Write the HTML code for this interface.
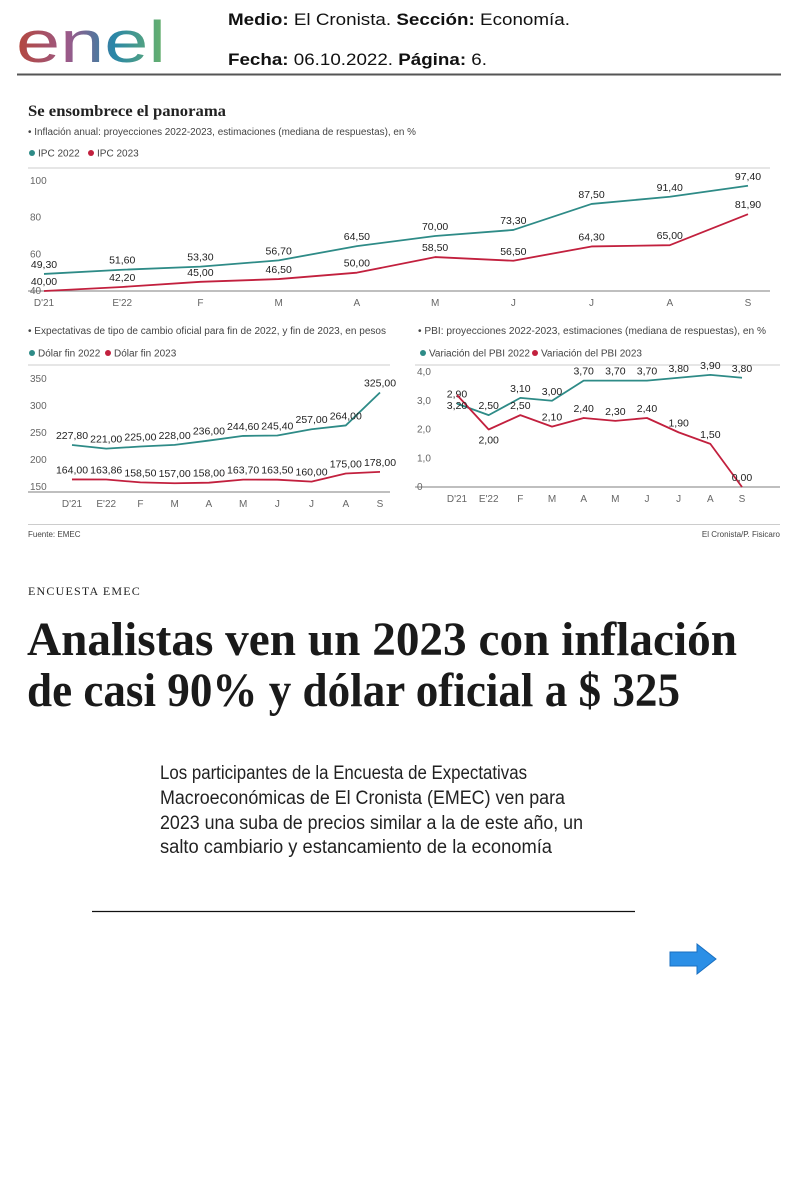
<!DOCTYPE html>
<html><head><meta charset="utf-8"><style>
html,body{margin:0;padding:0;background:#fff}
svg{display:block}
text{font-family:"Liberation Sans",sans-serif}
text.serif{font-family:"Liberation Serif",serif}
.tk{font-size:10px;fill:#666}
.vl{font-size:10.5px;fill:#222}
.sub{font-size:10px;fill:#444}
</style></head><body>
<svg id="pg" width="800" height="1200" viewBox="0 0 800 1200">
<defs>
<linearGradient id="lg" x1="0" x2="1"><stop offset="0" stop-color="#b5473c"/><stop offset="0.35" stop-color="#9a5a8a"/><stop offset="0.65" stop-color="#2a86a8"/><stop offset="1" stop-color="#6ab36a"/></linearGradient>
</defs>
<g>
<text x="16" y="62" font-size="58" fill="url(#lg)" textLength="150" lengthAdjust="spacingAndGlyphs">enel</text>
<text x="228" y="25" font-size="17" fill="#111" textLength="342" lengthAdjust="spacingAndGlyphs"><tspan font-weight="bold">Medio:</tspan> El Cronista.  <tspan font-weight="bold">Sección:</tspan> Economía.</text>
<text x="228" y="65" font-size="17" fill="#111" textLength="259" lengthAdjust="spacingAndGlyphs"><tspan font-weight="bold">Fecha:</tspan> 06.10.2022.  <tspan font-weight="bold">Página:</tspan> 6.</text>
<line x1="17" y1="74.5" x2="781" y2="74.5" stroke="#555" stroke-width="2"/>
</g>
<text x="28" y="116" font-size="16" class="serif" font-weight="bold" fill="#222" textLength="198" lengthAdjust="spacingAndGlyphs">Se ensombrece el panorama</text>
<text x="28" y="135" class="sub" textLength="388" lengthAdjust="spacingAndGlyphs">• Inflación anual: proyecciones 2022-2023, estimaciones (mediana de respuestas), en %</text>
<g>
<circle cx="32" cy="153" r="3" fill="#2e8b87"/><text x="38" y="156.5" class="sub">IPC 2022</text>
<circle cx="91" cy="153" r="3" fill="#c2203e"/><text x="97" y="156.5" class="sub">IPC 2023</text>
</g>
<text x="28" y="334" class="sub" textLength="358" lengthAdjust="spacingAndGlyphs">• Expectativas de tipo de cambio oficial para fin de 2022, y fin de 2023, en pesos</text>
<g>
<circle cx="32" cy="353" r="3" fill="#2e8b87"/><text x="38" y="356.5" class="sub">Dólar fin 2022</text>
<circle cx="108" cy="353" r="3" fill="#c2203e"/><text x="114" y="356.5" class="sub">Dólar fin 2023</text>
</g>
<text x="418" y="334" class="sub" textLength="348" lengthAdjust="spacingAndGlyphs">• PBI: proyecciones 2022-2023, estimaciones (mediana de respuestas), en %</text>
<g>
<circle cx="423" cy="353" r="3" fill="#2e8b87"/><text x="429" y="356.5" class="sub">Variación del PBI 2022</text>
<circle cx="535" cy="353" r="3" fill="#c2203e"/><text x="541" y="356.5" class="sub">Variación del PBI 2023</text>
</g>
<line x1="28" y1="524.5" x2="780" y2="524.5" stroke="#ccc"/>
<text x="28" y="537" font-size="8" fill="#444">Fuente: EMEC</text>
<text x="780" y="537" font-size="8" fill="#444" text-anchor="end">El Cronista/P. Fisicaro</text>
<g id="charts"></g>

<text x="28" y="595" font-size="12" class="serif" fill="#222" letter-spacing="1.2">ENCUESTA EMEC</text>
<g>
<text x="27" y="655" font-size="48" class="serif" font-weight="bold" fill="#1a1a1a" textLength="710" lengthAdjust="spacingAndGlyphs">Analistas ven un 2023 con inflación</text>
<text x="27" y="706" font-size="48" class="serif" font-weight="bold" fill="#1a1a1a" textLength="653" lengthAdjust="spacingAndGlyphs">de casi 90% y dólar oficial a $ 325</text>
</g>
<g font-size="19" fill="#222">
<text x="160" y="779" textLength="367" lengthAdjust="spacingAndGlyphs">Los participantes de la Encuesta de Expectativas</text>
<text x="160" y="804" textLength="405" lengthAdjust="spacingAndGlyphs">Macroeconómicas de El Cronista (EMEC) ven para</text>
<text x="160" y="829" textLength="423" lengthAdjust="spacingAndGlyphs">2023 una suba de precios similar a la de este año, un</text>
<text x="160" y="853" textLength="392" lengthAdjust="spacingAndGlyphs">salto cambiario y estancamiento de la economía</text>
</g>
<line x1="92" y1="911.5" x2="635" y2="911.5" stroke="#111" stroke-width="1.2"/>
<path d="M670 952 L697 952 L697 944 L716 959 L697 974 L697 966 L670 966 Z" fill="#2b8fe6" stroke="#1a6fc0" stroke-width="1"/>
</svg>
<script>
const months = ["D'21","E'22","F","M","A","M","J","J","A","S"];
const ipc2022 = [49.3,51.6,53.3,56.7,64.5,70.0,73.3,87.5,91.4,97.4];
const ipc2023 = [40.0,42.2,45.0,46.5,50.0,58.5,56.5,64.3,65.0,81.9];
const ipcTicks = [40,60,80,100];
const dolar2022 = [227.8,221.0,225.0,228.0,236.0,244.6,245.4,257.0,264.0,325.0];
const dolar2023 = [164.0,163.86,158.5,157.0,158.0,163.7,163.5,160.0,175.0,178.0];
const dolarTicks = [150,200,250,300,350];
const pbi2022 = [2.9,2.5,3.1,3.0,3.7,3.7,3.7,3.8,3.9,3.8];
const pbi2023 = [3.2,2.0,2.5,2.1,2.4,2.3,2.4,1.9,1.5,0.0];
const pbiTicks = [0,1,2,3,4];

const NS="http://www.w3.org/2000/svg";
const root=document.getElementById('charts');
function mk(tag,attrs,parent){const e=document.createElementNS(NS,tag);for(const k in attrs)e.setAttribute(k,attrs[k]);parent.appendChild(e);return e;}
function fmt(v,d){return v.toFixed(d).replace('.',',');}

function chart(cfg){
  const g=mk('g',{},root);
  
  
  const x=i=>cfg.x0+i*(cfg.x1-cfg.x0)/(months.length-1);
  const y=v=>cfg.yb-(v-cfg.vmin)*(cfg.yb-cfg.yt)/(cfg.vmax-cfg.vmin);
  const top=mk('line',{x1:cfg.left,x2:cfg.right,y1:cfg.top,y2:cfg.top,stroke:'#ccc'},g);
  
  
  const base=mk('line',{x1:cfg.left,x2:cfg.right,y1:cfg.base,y2:cfg.base,stroke:'#999','stroke-width':1.3},g);
  
  
  cfg.ticks.forEach(t=>{
    const tx=mk('text',{x:cfg.left+2,y:y(t)+3,class:'tk'},g);
    tx.textContent=cfg.tickFmt(t);
    
    
  });
  months.forEach((m,i)=>{
    const tx=mk('text',{x:x(i),y:cfg.base+15,class:'tk','text-anchor':'middle'},g);
    tx.textContent=m;
    
    
  });
  cfg.series.forEach(s=>{
    const p=mk('polyline',{points:s.data.map((v,i)=>x(i)+','+y(v)).join(' '),fill:'none',stroke:s.color,'stroke-width':1.8,'stroke-linejoin':'round'},g);
    
    
    s.data.forEach((v,i)=>{
      const below=s.below&&s.below(i);
      const tx=mk('text',{x:x(i),y:below?y(v)+14:y(v)-6,class:'vl','text-anchor':'middle'},g);
      tx.textContent=fmt(v,2);
      
      
    });
  });
}
chart({name:'inflation-chart',x0:44,x1:748,yb:291,yt:181,vmin:40,vmax:100,left:28,right:770,top:168,base:291,
  ticks:ipcTicks,tickFmt:t=>String(t),
  series:[{name:'ipc-2022-line',data:ipc2022,color:'#2e8b87'},{name:'ipc-2023-line',data:ipc2023,color:'#c2203e'}]});
chart({name:'dollar-chart',x0:72,x1:380,yb:487,yt:379,vmin:150,vmax:350,left:28,right:390,top:365,base:492,
  ticks:dolarTicks,tickFmt:t=>String(t),
  series:[{name:'dolar-2022-line',data:dolar2022,color:'#2e8b87'},{name:'dolar-2023-line',data:dolar2023,color:'#c2203e'}]});
chart({name:'pbi-chart',x0:457,x1:742,yb:487,yt:372,vmin:0,vmax:4,left:415,right:780,top:365,base:487,
  ticks:pbiTicks,tickFmt:t=>t===0?'0':fmt(t,1),
  series:[{name:'pbi-2022-line',data:pbi2022,color:'#2e8b87'},{name:'pbi-2023-line',data:pbi2023,color:'#c2203e',below:i=>i<2}]});
</script>
</body></html>
